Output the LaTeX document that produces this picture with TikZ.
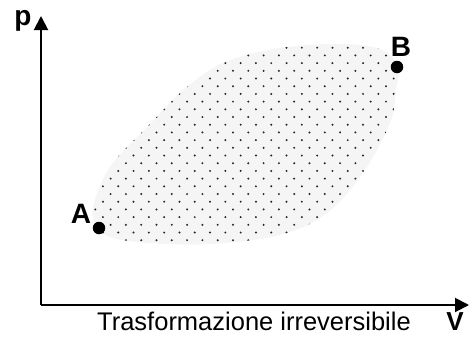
\documentclass[tikz,border=0pt]{standalone}
\usepackage{fontspec}
\setmainfont{Liberation Sans}
\usetikzlibrary{arrows.meta}
\begin{document}
\begin{tikzpicture}[x=1pt,y=-1pt,
  axis/.style={line width=2pt,-{Triangle[length=14pt,width=14pt]}},
  lbl/.style={font=\fontsize{28}{30}\selectfont\bfseries,anchor=base,inner sep=0pt},
  statept/.style={circle,fill=black,minimum size=12.5pt,inner sep=0pt},
  pdot/.style={fill=black!85}]
\useasboundingbox (0,0) rectangle (472,341);
% region
\def\regionpath{plot[smooth cycle,tension=0.6] coordinates {(98,228) (93,207) (110,167) (147,127) (187,87) (225,62) (280,48) (340,44) (380,49) (398,66) (396,90) (390,123) (363,173) (327,213) (280,235) (210,244) (150,243) (113,238)}}
\fill[black!4] \regionpath;
\begin{scope}
  \clip \regionpath;
  \foreach \j in {0,...,28}{
    \pgfmathsetmacro{\yy}{40+7.7*\j}
    \pgfmathsetmacro{\off}{mod(\j,2)*7.65}
    \foreach \i in {0,...,22}{
      \fill[pdot] ({80+\off+15.3*\i},\yy) circle (1.1pt);
    }
  }
\end{scope}
% axes
\coordinate (O) at (41,305);
\coordinate (ytip) at (41,16);
\coordinate (xtip) at (469,305);
\draw[axis] (O) -- (ytip);
\draw[axis] (O) -- (xtip);
% labels
\node[lbl] (p) at (23,25) {p};
\node[lbl,font=\fontsize{26}{28}\selectfont\bfseries] (V) at (455,330) {V};
\node[anchor=base,inner sep=0pt,font=\fontsize{25.5}{28}\selectfont] (t) at (254,330) {Trasformazione irreversibile};
\node[statept] (A) at (99,228) {};
\node[statept] (B) at (397,67) {};
\node[lbl] (Al) at (81,223) {A};
\node[lbl] (Bl) at (401,56) {B};
\end{tikzpicture}
\end{document}
